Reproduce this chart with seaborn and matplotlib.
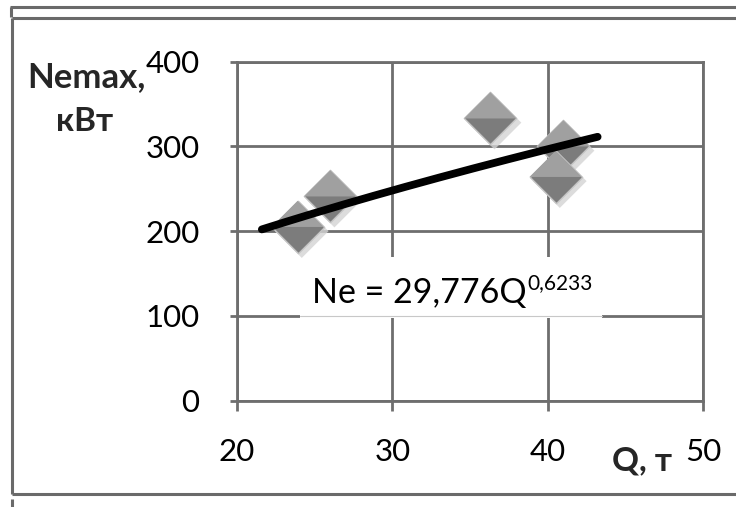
import numpy as np
import pandas as pd
import matplotlib
matplotlib.use("Agg")
import matplotlib.pyplot as plt
from matplotlib.path import Path
from matplotlib.patches import Rectangle
from matplotlib.lines import Line2D
import matplotlib.transforms as mtrans
import seaborn as sns

# Load capacity Q (t) and maximum engine power Ne (kW)
q_t = [23.9, 26.0, 36.3, 41.0, 40.5]
ne_kw = [205, 241, 333, 300, 264]

# Power-law trendline Ne = a * Q^b
coef_a = 29.776
coef_b = 0.6233
trend_q_range = [21.6, 43.2]

x_ticks = [20, 30, 40, 50]
y_ticks = [0, 100, 200, 300, 400]

sns.set_theme(style="white")
plt.rcParams["font.family"] = ["Lato", "DejaVu Sans"]

W, H = 736, 507
fig = plt.figure(figsize=(W / 100, H / 100), dpi=100)
fig.patch.set_facecolor("white")


def fx(px):
    return px / W


def fy(py):
    return 1 - py / H


ax = fig.add_axes([fx(237), fy(400.7), fx(703.3) - fx(237), fy(61.7) - fy(400.7)])

grid_c = "#6e6e6e"
frame_c = "#6a6a6a"

df = pd.DataFrame({"Q": q_t, "Ne": ne_kw})

# Bevelled diamond markers: soft shadow, darker body, lighter upper half
diamond = Path([(0, 1), (1, 0), (0, -1), (-1, 0), (0, 1)],
               [Path.MOVETO, Path.LINETO, Path.LINETO, Path.LINETO, Path.CLOSEPOLY])
upper = Path([(-1, 0), (0, 1), (1, 0), (-1, 0)],
             [Path.MOVETO, Path.LINETO, Path.LINETO, Path.CLOSEPOLY])
msize = 1420
shadow_tr = mtrans.offset_copy(ax.transData, fig=fig, x=3, y=-3, units="points")
sns.scatterplot(data=df, x="Q", y="Ne", marker=diamond, s=msize * 1.05,
                color="#d4d4d4", edgecolor="none", alpha=0.8, ax=ax,
                transform=shadow_tr, zorder=3, legend=False)
sns.scatterplot(data=df, x="Q", y="Ne", marker=diamond, s=msize,
                color="#7c7c7c", edgecolor="#c4c4c4", linewidth=1.0, ax=ax,
                zorder=4, legend=False)
sns.scatterplot(data=df, x="Q", y="Ne", marker=upper, s=msize,
                color="#a0a0a0", edgecolor="none", ax=ax, zorder=4.5,
                legend=False)

# Trendline from the fitted power law
trend_q = np.linspace(trend_q_range[0], trend_q_range[1], 200)
trend_ne = coef_a * trend_q ** coef_b
sns.lineplot(x=trend_q, y=trend_ne, color="black", linewidth=5.6, ax=ax,
             zorder=6, solid_capstyle="round", sort=False)

ax.set_xlim(20, 50)
ax.set_ylim(0, 400)
ax.set_xticks(x_ticks)
ax.set_yticks(y_ticks)
ax.set_xticklabels([str(v) for v in x_ticks])
ax.set_yticklabels([str(v) for v in y_ticks])
ax.set_xlabel("")
ax.set_ylabel("")
ax.set_axisbelow(True)
ax.grid(True, color=grid_c, linewidth=2.0)
for sp in ax.spines.values():
    sp.set_color(grid_c)
    sp.set_linewidth(2.0)
ax.tick_params(axis="x", length=7, width=2.0, color=grid_c, pad=20,
               labelsize=22.5, labelcolor="black", bottom=True, direction="out")
ax.tick_params(axis="y", length=5, width=2.0, color=grid_c, pad=22,
               labelsize=22.5, labelcolor="black", left=True, direction="out")

# White box behind the equation label
box_x0, box_x1 = 20 + (300 - 237) / 15.54, 20 + (601.7 - 237) / 15.54
box_y0, box_y1 = 97.5, 169.5
ax.add_patch(Rectangle((box_x0, box_y0), box_x1 - box_x0, box_y1 - box_y0,
                       facecolor="white", edgecolor="none", zorder=2.6))
ax.plot([box_x0, box_x1], [100, 100], color="#c8c8c8", linewidth=0.8, zorder=2.7)

eq_main = "Ne = " + f"{coef_a:.3f}".replace(".", ",") + "Q"
eq_sup = f"{coef_b:.4f}".replace(".", ",")
t_main = fig.text(fx(311.7), fy(303.3), eq_main, fontsize=24.5, color="black",
                  ha="left", va="baseline")
fig.canvas.draw()
bb = t_main.get_window_extent()
fig.text((bb.x1 + 1) / W, fy(289.3), eq_sup, fontsize=15, color="black",
         ha="left", va="baseline")

# Axis titles
fig.text(fx(86), fy(77), "Nemax,", fontsize=25, fontweight="bold",
         ha="center", va="center")
fig.text(fx(85), fy(121.7), "кВт", fontsize=24, fontweight="bold",
         ha="center", va="center")
fig.text(fx(642), fy(461), "Q, т", fontsize=24, fontweight="bold",
         ha="center", va="center")

# Outer frame
frame_lines = [
    ([10, 736], [7, 7]),
    ([11, 11], [7, 17]),
    ([12, 736], [17.5, 17.5]),
    ([12, 12], [17.5, 494]),
    ([12, 736], [494, 494]),
    ([12, 12], [499, 507]),
]
for xs, ys in frame_lines:
    fig.add_artist(Line2D([fx(v) for v in xs], [fy(v) for v in ys],
                          color=frame_c, linewidth=2.2,
                          solid_capstyle="butt"))

fig.savefig("out.png", dpi=100, facecolor="white")
